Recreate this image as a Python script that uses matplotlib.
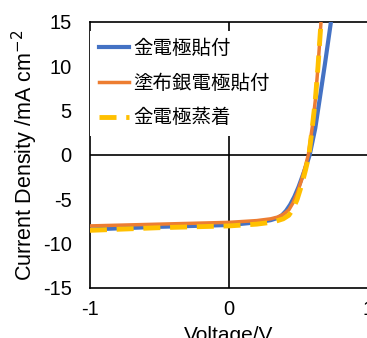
import matplotlib
matplotlib.use('Agg')
import matplotlib.pyplot as plt

plt.rcParams['font.family'] = ['Liberation Sans', 'Noto Sans CJK JP', 'DejaVu Sans']
plt.rcParams['axes.unicode_minus'] = False

labels = ['金電極貼付', '塗布銀電極貼付', '金電極蒸着']

v_gold_attached = [-1, -0.5, 0, 0.2, 0.3, 0.35, 0.38, 0.41, 0.44, 0.47, 0.5, 0.53, 0.555, 0.58, 0.62, 0.65, 0.69, 0.74]
j_gold_attached = [-8.4, -8.1, -7.9, -7.6, -7.35, -7.1, -6.8, -6.3, -5.6, -4.7, -3.6, -2.3, -1.2, 0.0, 3.0, 6.1, 10.3, 15.8]

v_silver = [-1, -0.5, 0, 0.2, 0.3, 0.35, 0.39, 0.43, 0.46, 0.49, 0.52, 0.545, 0.57, 0.6, 0.62, 0.64, 0.67]
j_silver = [-8.0, -7.8, -7.6, -7.4, -7.2, -7.0, -6.7, -6.2, -5.4, -4.3, -2.9, -1.5, 0.0, 3.3, 6.1, 10.0, 17.0]

v_gold_evap = [-1, -0.5, 0, 0.2, 0.3, 0.35, 0.39, 0.43, 0.46, 0.49, 0.52, 0.55, 0.575, 0.6, 0.62, 0.64, 0.67]
j_gold_evap = [-8.5, -8.2, -8.0, -7.8, -7.6, -7.4, -7.2, -6.8, -6.1, -5.0, -3.5, -1.7, 0.0, 3.3, 6.1, 10.0, 17.0]

fig = plt.figure(figsize=(3.67, 3.38), dpi=100)
ax = fig.add_axes([0.245, 0.148, 0.758, 0.787])

ax.axhline(0, color='black', lw=1.2, zorder=1)
ax.axvline(0, color='black', lw=1.2, zorder=1)

ax.plot(v_gold_attached, j_gold_attached, color='#4472C4', lw=3, label=labels[0], zorder=3)
ax.plot(v_silver, j_silver, color='#ED7D31', lw=2.5, label=labels[1], zorder=4)
ax.plot(v_gold_evap, j_gold_evap, color='#FFC000', lw=3.5, ls=(0, (3.5, 2.0)), label=labels[2], zorder=5)

ax.set_xlim(-1, 1)
ax.set_ylim(-15, 15)
ax.set_xticks([-1, 0, 1])
ax.set_yticks(range(-15, 16, 5))
ax.tick_params(axis='both', length=0, labelsize=14.5)
ax.tick_params(axis='y', pad=13)
ax.tick_params(axis='x', pad=9)
for s in ax.spines.values():
    s.set_linewidth(1.2)

ax.set_xlabel('Voltage/V', fontsize=15, labelpad=5)
ax.set_ylabel('Current Density /mA cm$^{-2}$', fontsize=15.5, labelpad=2)

leg = ax.legend(loc='upper left', bbox_to_anchor=(-0.005, 0.975), fontsize=14,
                frameon=True, framealpha=1, edgecolor='none', fancybox=False,
                handlelength=1.55, handletextpad=0.2, labelspacing=0.85,
                borderpad=0.45, borderaxespad=0.1)
leg.set_zorder(10)

fig.savefig('out.png', dpi=100)
